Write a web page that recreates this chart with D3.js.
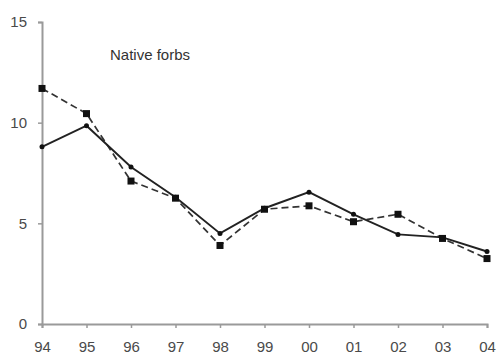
<!DOCTYPE html>
<html>
<head>
<meta charset="utf-8">
<script src="https://cdn.jsdelivr.net/npm/d3@7"></script>
<style>
  html, body { margin: 0; padding: 0; background: #fff; }
  svg { display: block; }
  .tick text { font-family: Arial, "Liberation Sans", sans-serif; font-size: 15px; fill: #4a4a4a; }
</style>
</head>
<body>
<svg id="chart" width="500" height="363"></svg>
<script>
// Yearly values for native forbs, two treatments
const years = ["94", "95", "96", "97", "98", "99", "00", "01", "02", "03", "04"];
const solidSeries = [8.8, 9.85, 7.8, 6.3, 4.5, 5.75, 6.55, 5.45, 4.45, 4.3, 3.6];
const dashedSeries = [11.7, 10.45, 7.1, 6.25, 3.9, 5.7, 5.87, 5.08, 5.45, 4.25, 3.25];
const yTicks = [0, 5, 10, 15];
const title = "Native forbs";

const svg = d3.select("#chart");
const plotLeft = 42, plotRight = 487, plotTop = 22, plotBottom = 324;

const x = d3.scalePoint().domain(years).range([plotLeft, plotRight]);
const y = d3.scaleLinear().domain([0, 15]).range([plotBottom, plotTop]);

const axisColor = "#9a9a9a";

// Y axis
const gy = svg.append("g").attr("transform", `translate(${plotLeft},0)`)
  .call(d3.axisLeft(y).tickValues(yTicks).tickSize(4).tickPadding(11));
gy.select(".domain").attr("stroke", axisColor).attr("stroke-width", 2);
gy.selectAll(".tick line").attr("stroke", axisColor).attr("stroke-width", 1.5);

// X axis
const gx = svg.append("g").attr("transform", `translate(0,${plotBottom})`)
  .call(d3.axisBottom(x).tickSize(4).tickPadding(13));
gx.select(".domain").attr("stroke", axisColor).attr("stroke-width", 2);
gx.selectAll(".tick line").attr("stroke", axisColor).attr("stroke-width", 1.5);

const line = d3.line().x((d, i) => x(years[i])).y(d => y(d));

// Dashed series with square markers
svg.append("path").datum(dashedSeries)
  .attr("fill", "none").attr("stroke", "#333").attr("stroke-width", 1.7)
  .attr("stroke-dasharray", "7,4").attr("d", line);

// Solid series with small round markers
svg.append("path").datum(solidSeries)
  .attr("fill", "none").attr("stroke", "#222").attr("stroke-width", 1.9)
  .attr("d", line);

svg.append("g").selectAll("rect").data(dashedSeries).join("rect")
  .attr("x", (d, i) => x(years[i]) - 3.5).attr("y", d => y(d) - 3.5)
  .attr("width", 7).attr("height", 7).attr("fill", "#111");

svg.append("g").selectAll("circle").data(solidSeries).join("circle")
  .attr("cx", (d, i) => x(years[i])).attr("cy", d => y(d))
  .attr("r", 2.5).attr("fill", "#111");

// Panel label
svg.append("text").attr("x", 110).attr("y", 60)
  .attr("font-family", "Arial, 'Liberation Sans', sans-serif")
  .attr("font-size", 15).attr("fill", "#333").text(title);
</script>
</body>
</html>
